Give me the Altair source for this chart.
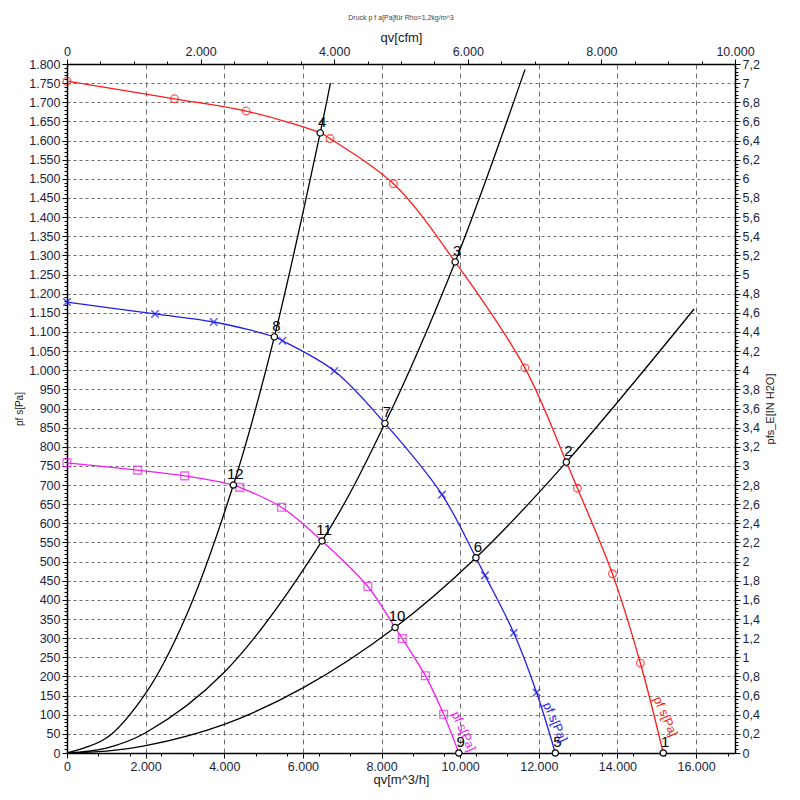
import altair as alt
import pandas as pd

# ---- fan characteristic curves (qv in m^3/h, static pressure in Pa) ----
red_q = [0, 2734, 4557, 6440, 6690, 8304, 9873, 11646, 12700, 12980, 13873, 14582, 15165]
red_p = [1755, 1709, 1677, 1620, 1605, 1487, 1283, 1006, 760, 692, 468, 235, 0]
blue_q = [0, 2239, 3732, 5274, 5479, 6801, 8086, 9538, 10401, 10630, 11362, 11943, 12420]
blue_p = [1178, 1147, 1126, 1087, 1077, 998, 861, 675, 510, 464, 314, 158, 0]
mag_q = [0, 1796, 2994, 4231, 4395, 5456, 6487, 7651, 8344, 8528, 9115, 9580, 9965]
mag_p = [758, 739, 724, 700, 694, 642, 554, 435, 328, 299, 202, 101, 0]
marker_idx = [0, 1, 2, 4, 5, 7, 9, 10, 11]

# ---- system (resistance) curves ----
sysA_q = [0, 1000, 2000, 3000, 4231, 5274, 6440, 6700]
sysA_p = [0, 39, 156, 351, 700, 1087, 1620, 1750]
sysB_q = [0, 1000, 2000, 4000, 6487, 8086, 9873, 11650]
sysB_p = [0, 13, 53, 211, 554, 861, 1283, 1786]
sysC_q = [0, 1000, 2000, 4000, 6000, 8344, 10401, 12700, 15950]
sysC_p = [0, 5, 19, 75, 170, 328, 510, 760, 1160]

# ---- operating points ----
op_label = ["1", "2", "3", "4", "5", "6", "7", "8", "9", "10", "11", "12"]
op_q = [15165, 12700, 9873, 6440, 12420, 10401, 8086, 5274, 9965, 8344, 6487, 4231]
op_p = [0, 760, 1283, 1620, 0, 510, 861, 1087, 0, 328, 554, 700]

# ---- curve end labels ----
curve_names = ["red", "blue", "magenta"]
curve_label_text = ["pf s[Pa]", "pf s[Pa]", "pf s[Pa]"]
curve_label_q = [15003, 12195, 9867]
curve_label_p = [146, 131, 107]

# ---- axis ticks ----
x_major = list(range(0, 16001, 2000))
x_minor = list(range(0, 16991, 800))
y_ticks = list(range(0, 1801, 10))
cfm_ticks = list(range(0, 10001, 500))
inh_ticks = [round(i * 0.04, 2) for i in range(0, 181)]

colors = {"red": "#ff1a1a", "blue": "#1f1fe6", "magenta": "#f01ef0"}

rows = []
for name, qs, ps in [("red", red_q, red_p), ("blue", blue_q, blue_p), ("magenta", mag_q, mag_p)]:
    for i, (q, p) in enumerate(zip(qs, ps)):
        rows.append({"curve": name, "q": q, "p": p, "idx": i, "marker": i in marker_idx})
fan = pd.DataFrame(rows)

srows = []
for name, qs, ps in [("A", sysA_q, sysA_p), ("B", sysB_q, sysB_p), ("C", sysC_q, sysC_p)]:
    for q, p in zip(qs, ps):
        srows.append({"sys": name, "q": q, "p": p})
sysdf = pd.DataFrame(srows)

ops = pd.DataFrame({"label": op_label, "q": op_q, "p": op_p})
clab = pd.DataFrame({"curve": curve_names, "text": curve_label_text,
                     "q": curve_label_q, "p": curve_label_p})

FONT = "Liberation Sans"
LABEL_COLOR = "#1c2340"

xticks_all = sorted(set(x_major + x_minor))

X = alt.X("q:Q",
          scale=alt.Scale(domain=[0, 16990], nice=False, zero=False),
          axis=alt.Axis(values=xticks_all, title="qv[m^3/h]",
                        labelExpr="datum.value % 2000 === 0 ? replace(format(datum.value, ','), ',', '.') : ''",
                        tickSize={"condition": {"test": "datum.value % 2000 === 0", "value": 5}, "value": 3},
                        grid=True, gridDash=[5, 4], gridColor="#6e6e6e", gridWidth=1,
                        gridOpacity={"condition": {"test": "datum.value % 2000 === 0 && datum.value > 0", "value": 1}, "value": 0},
                        labelFlush=False, labelOverlap=False, labelFontSize=12.5, labelPadding=2,
                        titleFontSize=13, titlePadding=1))
Y = alt.Y("p:Q",
          scale=alt.Scale(domain=[0, 1800], nice=False, zero=False),
          axis=alt.Axis(values=y_ticks, title="pf s[Pa]",
                        labelExpr="datum.value % 50 === 0 ? replace(format(datum.value, ','), ',', '.') : ''",
                        tickSize={"condition": {"test": "datum.value % 50 === 0", "value": 5}, "value": 3},
                        grid=True, gridDash=[3, 3], gridColor="#6e6e6e", gridWidth=1,
                        gridOpacity={"condition": {"test": "datum.value % 50 === 0 && datum.value > 0 && datum.value < 1800", "value": 1}, "value": 0},
                        labelFlush=False, labelOverlap=False, labelFontSize=12.5, labelPadding=2,
                        titleFontSize=10, titlePadding=4))

color_scale = alt.Scale(domain=list(colors.keys()), range=list(colors.values()))

sys_lines = alt.Chart(sysdf).mark_line(color="black", strokeWidth=1.3, interpolate="catmull-rom").encode(
    x=X, y=Y, detail="sys:N", order="q:Q")

fan_lines = alt.Chart(fan).mark_line(strokeWidth=1.3, interpolate="catmull-rom").encode(
    x=X, y=Y, color=alt.Color("curve:N", scale=color_scale, legend=None), order="q:Q")

red_markers = alt.Chart(fan).transform_filter("datum.marker && datum.curve === 'red'").mark_point(
    shape="circle", filled=False, size=60, strokeWidth=1.3, color=colors["red"]).encode(x=X, y=Y)
blue_markers = alt.Chart(fan).transform_filter("datum.marker && datum.curve === 'blue'").mark_point(
    shape="M-1,-1L1,1M-1,1L1,-1", filled=False, size=55, strokeWidth=1.6, color=colors["blue"]).encode(x=X, y=Y)
mag_markers = alt.Chart(fan).transform_filter("datum.marker && datum.curve === 'magenta'").mark_point(
    shape="square", filled=False, size=60, strokeWidth=1.3, color=colors["magenta"]).encode(x=X, y=Y)

op_points = alt.Chart(ops).mark_point(shape="circle", filled=True, fill="white", stroke="black",
                                      strokeWidth=1.2, size=40, opacity=1).encode(x=X, y=Y)
op_text = alt.Chart(ops).mark_text(font=FONT, fontSize=15, color="black", dx=2, dy=-11).encode(
    x=X, y=Y, text="label:N")

curve_text = alt.Chart(clab).mark_text(font=FONT, fontSize=12.5, angle=66, align="left",
                                       baseline="middle").encode(
    x=X, y=Y, text="text:N", color=alt.Color("curve:N", scale=color_scale, legend=None))

inner = alt.layer(sys_lines, fan_lines, red_markers, blue_markers, mag_markers,
                  op_points, op_text, curve_text)

top_axis = alt.Chart(pd.DataFrame({"cfm": cfm_ticks})).mark_tick(opacity=0).encode(
    x=alt.X("cfm:Q", scale=alt.Scale(domain=[0, 10000], nice=False, zero=False),
            axis=alt.Axis(orient="top", values=cfm_ticks, title="qv[cfm]",
                          labelExpr="datum.value % 2000 === 0 ? replace(format(datum.value, ','), ',', '.') : ''",
                          tickSize={"condition": {"test": "datum.value % 2000 === 0", "value": 5}, "value": 3},
                          grid=False, labelFlush=False, labelOverlap=False, labelFontSize=12.5,
                          labelPadding=1, titleFontSize=13, titlePadding=1)))

right_axis = alt.Chart(pd.DataFrame({"inh": inh_ticks})).mark_tick(opacity=0).encode(
    y=alt.Y("inh:Q", scale=alt.Scale(domain=[0, 7.2], nice=False, zero=False),
            axis=alt.Axis(orient="right", values=inh_ticks, title="pfs_E[IN H2O]",
                          labelExpr="abs(datum.value * 5 - round(datum.value * 5)) < 0.001 ? replace(format(datum.value, '.1~f'), '.', ',') : ''",
                          tickSize={"condition": {"test": "abs(datum.value * 5 - round(datum.value * 5)) < 0.001", "value": 5}, "value": 3},
                          grid=False, labelFlush=False, labelOverlap=False, labelFontSize=12.5,
                          labelPadding=2, titleAngle=270, titleFontSize=11, titlePadding=16)))

chart = alt.layer(inner, top_axis, right_axis).resolve_scale(
    x="independent", y="independent"
).properties(
    width=668, height=689,
    autosize=alt.AutoSizeParams(type="none"),
    padding={"left": 59, "top": 56, "right": 50, "bottom": 40},
    title=alt.Title("Druck p f a[Pa]für Rho=1,2kg/m^3", fontSize=7, fontWeight="normal",
                    color="#444", font=FONT, offset=10),
).configure_axis(
    labelFont=FONT, titleFont=FONT, labelColor=LABEL_COLOR, titleColor="#1a1a1a",
    titleFontWeight="normal", domainColor="black", domainWidth=1.5, tickColor="black",
    tickWidth=1,
).configure_view(stroke=None)

chart.save("out.html", embed_options={"renderer": "svg", "actions": False})
